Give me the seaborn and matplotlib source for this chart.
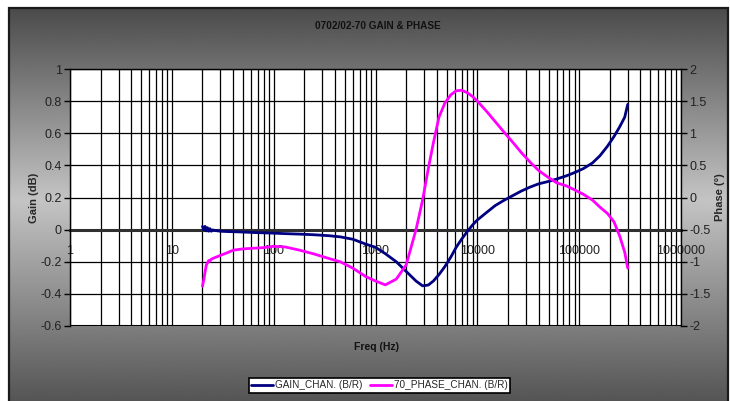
import numpy as np
import matplotlib
matplotlib.use("Agg")
import matplotlib.pyplot as plt
import seaborn as sns
from matplotlib.ticker import FixedLocator, FuncFormatter, LogLocator, NullFormatter
from matplotlib.patches import Rectangle

# ---- data ----
freq_hz = [20, 20.6, 21.2, 21.8, 22.4, 23, 23.7, 24.4, 25.2, 27, 30, 35, 40,
           50, 63, 80, 100, 130, 180, 250, 350, 450, 600, 800, 1000, 1250,
           1600, 2000, 2500, 2900, 3300, 3700, 4200, 4800, 5500, 6200, 7000,
           8000, 9000, 10000, 12500, 15000, 18000, 22000, 27000, 33000, 40000,
           50000, 60000, 75000, 90000, 110000, 135000, 160000, 190000, 220000,
           250000, 280000, 300000]

gain_db = [0.02, -0.002, 0.02, -0.008, 0.012, -0.01, 0.006, -0.01, -0.002,
           -0.006, -0.01, -0.012, -0.013, -0.015, -0.018, -0.02, -0.022,
           -0.025, -0.028, -0.032, -0.038, -0.045, -0.06, -0.09, -0.11, -0.15,
           -0.2, -0.26, -0.32, -0.35, -0.345, -0.32, -0.28, -0.23, -0.17,
           -0.11, -0.06, -0.01, 0.03, 0.06, 0.11, 0.15, 0.18, 0.21, 0.24,
           0.265, 0.285, 0.3, 0.315, 0.335, 0.355, 0.38, 0.415, 0.46, 0.52,
           0.58, 0.64, 0.7, 0.78]

phase_deg = [-1.38, -1.28, -1.16, -1.05, -1.02, -0.98, -0.99, -0.96, -0.95,
             -0.93, -0.9, -0.86, -0.82, -0.8, -0.79, -0.78, -0.76, -0.77,
             -0.82, -0.88, -0.95, -1.0, -1.1, -1.23, -1.3, -1.36, -1.27,
             -1.05, -0.5, -0.04, 0.45, 0.85, 1.25, 1.47, 1.6, 1.66, 1.67, 1.63,
             1.57, 1.5, 1.33, 1.18, 1.03, 0.87, 0.7, 0.55, 0.42, 0.31, 0.23,
             0.18, 0.12, 0.05, -0.04, -0.15, -0.25, -0.38, -0.6, -0.85, -1.1]

gain_label = "GAIN_CHAN. (B/R)"
phase_label = "70_PHASE_CHAN. (B/R)"
x_ticks = [1, 10, 100, 1000, 10000, 100000, 1000000]
gain_ticks = [-0.6, -0.4, -0.2, 0, 0.2, 0.4, 0.6, 0.8, 1]
phase_ticks = [-2, -1.5, -1, -0.5, 0, 0.5, 1, 1.5, 2]

sns.set_style("white")
plt.rcParams["font.family"] = ["Liberation Sans", "DejaVu Sans"]

W, H = 730, 401
fig = plt.figure(figsize=(W / 100, H / 100), dpi=100)
fig.patch.set_facecolor("white")

# gradient chart area background
bg = fig.add_axes([8 / W, 0, 721 / W, 394 / H], zorder=-5)
rows = np.arange(394)
shade = np.interp(rows, [0, 193, 394], [0x4a, 0xc4, 0x55]) / 255.0
bg.imshow(shade[:, None], cmap="gray", vmin=0, vmax=1, aspect="auto",
          extent=[0, 1, 0, 1], origin="upper")
bg.set_axis_off()
fig.patches.append(Rectangle((8.5 / W, -0.01), 719.5 / W, 1.01 - 7.5 / H,
                             transform=fig.transFigure, fill=False,
                             edgecolor="#1a1a1a", lw=1.6))

ax = fig.add_axes([70 / W, 1 - 326 / H, 611 / W, 257 / H])
ax.set_facecolor("white")
ax.set_xscale("log")

sns.lineplot(x=freq_hz, y=gain_db, ax=ax, color="#000080", lw=2,
             label=gain_label, sort=False)
ax.set_xlim(1, 1e6)
ax.set_ylim(-0.6, 1)

ax.xaxis.set_major_locator(FixedLocator(x_ticks))
ax.xaxis.set_minor_locator(LogLocator(base=10, subs=range(2, 10), numticks=20))
ax.xaxis.set_major_formatter(FuncFormatter(lambda v, p: f"{int(round(v))}"))
ax.xaxis.set_minor_formatter(NullFormatter())
ax.grid(True, which="both", axis="x", color="black", lw=0.9)
ax.yaxis.set_major_locator(FixedLocator(gain_ticks))
ax.yaxis.set_major_formatter(FuncFormatter(lambda v, p: f"{v:g}"))
ax.grid(True, which="major", axis="y", color="black", lw=0.9)
ax.set_axisbelow(True)

ax.spines["bottom"].set_position(("data", 0))
ax.spines["bottom"].set_color("#303030")
ax.spines["bottom"].set_linewidth(2.2)
ax.spines["bottom"].set_zorder(1.5)
ax.axhline(-0.6, color="black", lw=1.5, zorder=1)
for s in ["left", "right", "top"]:
    ax.spines[s].set_color("black")
    ax.spines[s].set_linewidth(1)

ax.tick_params(axis="x", which="both", length=0, pad=11, labelsize=9,
               labelcolor="#222222")
ax.tick_params(axis="y", which="major", length=4, width=1, color="black",
               direction="out", left=True, labelsize=9, labelcolor="#222222", pad=2)

ax.set_ylabel("Gain (dB)", fontsize=8, fontweight="bold", labelpad=1)
ax.set_xlabel("")

ax2 = ax.twinx()
sns.lineplot(x=freq_hz, y=phase_deg, ax=ax2, color="#ff00ff", lw=2,
             label=phase_label, sort=False)
ax2.set_ylim(-2, 2)
ax2.yaxis.set_major_locator(FixedLocator(phase_ticks))
ax2.yaxis.set_major_formatter(FuncFormatter(lambda v, p: f"{v:g}"))
ax2.tick_params(axis="y", which="major", length=4, width=1, color="black",
                direction="out", right=True, labelsize=9, labelcolor="#222222", pad=2)
ax2.grid(False)
for s in ax2.spines.values():
    s.set_visible(False)
ax2.set_ylabel("Phase (°)", fontsize=8, fontweight="bold", labelpad=3)

h1, l1 = ax.get_legend_handles_labels()
h2, l2 = ax2.get_legend_handles_labels()
ax.get_legend().remove()
ax2.get_legend().remove()

fig.text(378 / W, 1 - 26 / H, "0702/02-70 GAIN & PHASE", ha="center",
         va="center", fontsize=7.2, fontweight="bold", color="#111111")
fig.text(376 / W, 1 - 347 / H, "Freq (Hz)", ha="center", va="center",
         fontsize=7.5, fontweight="bold", color="#111111")

leg = fig.legend(h1 + h2, l1 + l2, loc="center",
                 bbox_to_anchor=(379.5 / W, 1 - 385 / H), ncol=2,
                 frameon=True, fancybox=False, edgecolor="black",
                 framealpha=1, fontsize=7.2, borderpad=0.25, handlelength=2.2,
                 columnspacing=0.7, handletextpad=0.2, borderaxespad=0)
leg.get_frame().set_linewidth(1.2)

fig.savefig("out.png", dpi=100)
